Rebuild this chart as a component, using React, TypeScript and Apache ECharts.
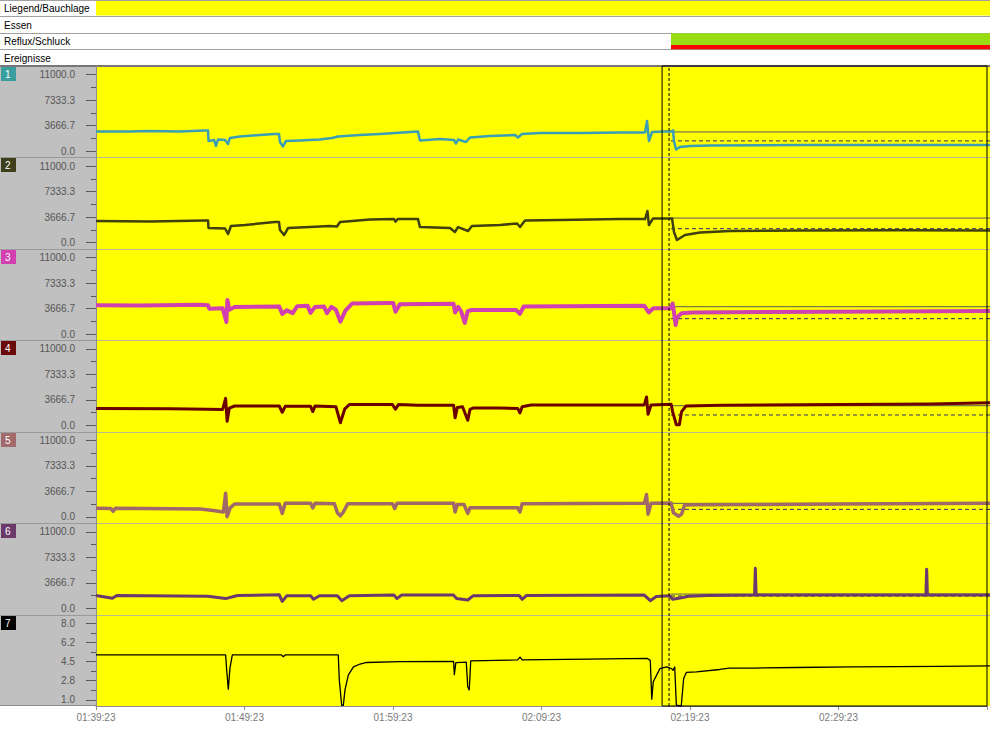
import React, { useEffect, useRef } from "react";
import * as echarts from "echarts";

// ---------- data ----------
const timeTickLabels = ["01:39:23", "01:49:23", "01:59:23", "02:09:23", "02:19:23", "02:29:23"];
const rowLabels = ["Liegend/Bauchlage", "Essen", "Reflux/Schluck", "Ereignisse"];
const channelLabels = ["1", "2", "3", "4", "5", "6", "7"];
const pressureTickLabels = ["0.0", "3666.7", "7333.3", "11000.0"];
const phTickLabels = ["1.0", "2.8", "4.5", "6.2", "8.0"];

// minutes from 01:39:23
const timeStart = 0;
const timeEnd = 60;
const cursorTime = 38.12;
const markerTime = 38.59;

const positionEvents = [[0, 60]];
const refluxEvents = [[38.59, 60]];
const swallowEvents = [[38.59, 60]];

const baselineSolid = [2770, 3530, 3930, 2840, 1950, 2050];
const baselineDashed = [1480, 2000, 2210, 1510, 1090, 1770];

const ch1 = [
  [0, 2830], [2.3, 2830], [3.6, 2900], [5.6, 2830], [7.3, 2970], [7.52, 2970], [7.55, 1470], [7.92, 1610],
  [8.05, 750], [8.19, 1680], [8.66, 1610], [8.86, 1040], [8.99, 1900], [9.66, 2110], [11.0, 2330], [12.0, 2470],
  [12.28, 2470], [12.35, 1320], [12.55, 680], [12.75, 1470], [13.7, 1540], [15.0, 1680], [15.84, 1900], [16.24, 2110],
  [17.7, 2330], [19.06, 2470], [20.07, 2610], [21.07, 2760], [21.61, 2830], [21.74, 1540], [23.09, 1750], [24.03, 1610],
  [24.16, 1100], [24.3, 1680], [24.83, 1320], [25.1, 1970], [26.44, 2190], [28.12, 2330], [28.32, 1970], [28.59, 2470],
  [29.8, 2610], [32.5, 2610], [35.2, 2690], [36.85, 2690], [36.98, 4340], [37.11, 1470], [37.32, 2760], [38.12, 2830],
  [38.66, 2830], [38.73, 3000], [38.79, 1470], [38.93, 250], [39.19, 610], [39.87, 750], [41.2, 820], [47.25, 890],
  [54, 890], [60, 890],
];

const ch2 = [
  [0, 3100], [3.6, 3030], [7.32, 3170], [7.52, 3170], [7.55, 2100], [8.66, 2030], [8.86, 1240], [9.06, 2390],
  [10.0, 2530], [12.0, 2960], [12.28, 2960], [12.35, 1810], [12.62, 1090], [12.89, 2100], [14.36, 2240], [15.7, 2390],
  [16.17, 2320], [16.38, 2960], [18.39, 3320], [20.0, 3390], [20.1, 3000], [20.25, 3390], [21.61, 3390], [21.74, 2240],
  [23.76, 2100], [24.09, 1530], [24.3, 2240], [24.97, 1670], [25.23, 2390], [27.11, 2530], [28.26, 2750], [28.46, 2240],
  [28.79, 3170], [31.14, 3250], [35.17, 3390], [36.85, 3390], [37.01, 4540], [37.11, 2530], [37.38, 3460], [38.66, 3460],
  [38.79, 1530], [38.99, 380], [39.53, 1090], [40.54, 1450], [42.55, 1670], [47.25, 1740], [53.96, 1770], [60, 1740],
];

const ch3 = [
  [0, 4150], [3.0, 4100], [7.0, 4200], [7.52, 4150], [7.6, 3650], [8.5, 3700], [8.75, 1740], [8.82, 4900],
  [8.95, 3500], [9.3, 3900], [12.3, 3950], [12.5, 2900], [12.8, 3400], [13.2, 3000], [13.5, 4000], [14.2, 4050],
  [14.4, 3050], [14.7, 3900], [15.3, 3950], [15.5, 3000], [15.8, 3900], [16.1, 3500], [16.4, 1780], [16.75, 3400],
  [17.2, 4400], [19.5, 4450], [19.95, 4450], [20.1, 3200], [20.4, 4300], [24.0, 4350], [24.1, 3100], [24.3, 3900],
  [24.5, 3300], [24.75, 1600], [24.95, 3300], [25.2, 3460], [28.2, 3450], [28.45, 2900], [28.7, 3950], [36.8, 4050],
  [37.1, 3100], [37.4, 3700], [38.6, 3700], [38.7, 4400], [38.8, 3000], [38.9, 1300], [39.0, 2400], [39.3, 3000],
  [40.0, 3100], [45, 3170], [53, 3250], [60, 3300],
];

const ch4 = [
  [0, 2450], [5, 2400], [7.5, 2350], [8.5, 2300], [8.7, 3900], [8.8, 600], [8.95, 2500], [9.3, 2800],
  [12.3, 2800], [12.5, 1900], [12.7, 2750], [14.4, 2750], [14.55, 2000], [14.7, 2800], [16.1, 2700], [16.4, 400],
  [16.7, 2400], [17.0, 3000], [19.9, 3000], [20.1, 2350], [20.3, 3000], [21.6, 2900], [24.0, 2900], [24.1, 1100],
  [24.25, 2600], [24.6, 2700], [24.95, 750], [25.1, 2300], [25.3, 2500], [27.0, 2500], [28.3, 2450], [28.45, 1800],
  [28.6, 2700], [29.2, 2950], [36.8, 2950], [36.95, 4100], [37.05, 1600], [37.25, 2950], [38.6, 3050], [38.7, 2000],
  [38.95, 100], [39.15, 100], [39.3, 2000], [39.6, 2800], [42, 2900], [50, 3000], [56, 3100], [60, 3250],
];

const ch5 = [
  [0, 1250], [1.0, 1200], [1.15, 800], [1.3, 1250], [7.0, 1150], [8.0, 900], [8.55, 700], [8.7, 3400],
  [8.8, 30], [9.0, 1300], [9.3, 1850], [12.3, 1850], [12.5, 500], [12.7, 1950], [14.4, 1950], [14.55, 1300],
  [14.7, 1950], [16.0, 1900], [16.2, 600], [16.4, 150], [16.6, 700], [16.9, 1900], [19.9, 1900], [20.05, 1200],
  [20.2, 1950], [24.0, 1950], [24.1, 700], [24.25, 1800], [24.7, 1800], [24.95, 500], [25.1, 1300], [27.0, 1300],
  [28.3, 1300], [28.45, 700], [28.6, 1900], [36.8, 1950], [36.95, 3200], [37.05, 400], [37.25, 1950], [38.6, 2000],
  [38.75, 600], [39.1, 100], [39.3, 400], [39.5, 1700], [40, 1750], [50, 1850], [60, 1950],
];

const ch6 = [
  [0, 1850], [1.1, 1450], [1.4, 1850], [7.5, 1750], [8.7, 1400], [9.5, 1850], [12.3, 1950], [12.5, 1000],
  [12.8, 1800], [14.4, 1800], [14.6, 1300], [15, 1800], [16.2, 1800], [16.5, 1100], [17, 1800], [20.0, 1900],
  [20.2, 1400], [20.5, 1900], [24.0, 1900], [24.2, 1400], [24.95, 1200], [25.3, 1800], [28.4, 1850], [28.6, 1300],
  [28.9, 1850], [36.8, 1900], [37.2, 1100], [37.6, 1700], [38.5, 1800], [38.7, 1300], [39.2, 1500], [39.8, 1750],
  [41, 1850], [44.2, 1900], [44.25, 5750], [44.3, 1900], [55.7, 1900], [55.75, 5600], [55.8, 1900], [60, 1900],
];

const ch7 = [
  [0, 5.1], [8.7, 5.1], [8.77, 3.72], [8.88, 1.96], [8.99, 3.9], [9.15, 5.1], [12.45, 5.1], [12.57, 4.94],
  [12.7, 5.1], [16.26, 5.1], [16.33, 2.8], [16.49, 0.5], [16.6, 0.5], [16.71, 1.9], [16.94, 3.27], [17.28, 4.0],
  [17.72, 4.27], [18.16, 4.41], [20.4, 4.48], [24.0, 4.5], [24.05, 3.3], [24.15, 4.4], [24.85, 4.45], [24.95, 2.2],
  [25.05, 1.9], [25.15, 4.55], [28.3, 4.65], [28.46, 4.9], [28.6, 4.65], [33, 4.72], [37.0, 4.78], [37.2, 4.6],
  [37.3, 1.05], [37.4, 2.65], [37.85, 3.85], [38.3, 4.0], [38.62, 3.85], [38.73, 3.7], [38.84, 4.0], [38.95, 0.5],
  [39.28, 0.45], [39.44, 2.95], [39.62, 3.5], [40.3, 3.55], [41.86, 3.77], [42.5, 3.9], [44.2, 3.9], [47.0, 3.95],
  [50.8, 4.0], [56.6, 4.05], [60, 4.1],
];

const channels = [ch1, ch2, ch3, ch4, ch5, ch6, ch7];

// ---------- styles / layout ----------
const W = 990;
const H = 743;
const PLOT_L = 96;
const PLOT_W = 894;
const BAND_H = 66;
const PANEL_H = 640 / 7;
const TICK_TOP = 8.65;
const TICK_SPAN = 76.55;
const FONT = '"Liberation Sans", Arial, sans-serif';

const CH_COLORS = ["#3a9fb5", "#40400e", "#d040b0", "#6a0000", "#a06868", "#6a3a6e", "#000000"];
const BADGE_COLORS = ["#3a9e9e", "#3e3e1a", "#d23fb0", "#6b0a0a", "#a26a6a", "#6b3a6b", "#000000"];
const CH_WIDTHS = [2.5, 2.5, 4, 3, 3.5, 3, 1.3];
const EVENT_COLORS = ["#ffff00", "#98dc12", "#ff0000"];
const EVENT_BANDS = [
  [0.06, 0.94],
  [0.02, 0.73],
  [0.73, 0.99],
];

function buildOption() {
  const grids: any[] = [];
  const xAxes: any[] = [];
  const yAxes: any[] = [];
  const series: any[] = [];
  const graphics: any[] = [];

  // grid 0: event rows
  grids.push({ left: PLOT_L, top: 0, width: PLOT_W, height: BAND_H });
  xAxes.push({ gridIndex: 0, type: "value", min: timeStart, max: timeEnd, show: false });
  yAxes.push({ gridIndex: 0, type: "value", min: 0, max: 4, inverse: true, show: false });

  const eventData: number[][] = [];
  positionEvents.forEach((e) => eventData.push([e[0], e[1], 0, 0]));
  refluxEvents.forEach((e) => eventData.push([e[0], e[1], 2, 1]));
  swallowEvents.forEach((e) => eventData.push([e[0], e[1], 2, 2]));
  series.push({
    type: "custom",
    xAxisIndex: 0,
    yAxisIndex: 0,
    data: eventData,
    clip: false,
    silent: true,
    z: 3,
    encode: { x: [0, 1], y: 2 },
    renderItem: (_p: any, api: any) => {
      const kind = api.value(3);
      const row = api.value(2);
      const f = EVENT_BANDS[kind];
      const a = api.coord([api.value(0), row + f[0]]);
      const b = api.coord([api.value(1), row + f[1]]);
      return {
        type: "rect",
        shape: { x: a[0], y: a[1], width: b[0] - a[0], height: b[1] - a[1] },
        style: { fill: EVENT_COLORS[kind] },
      };
    },
  });

  // panel grids 1..7
  channels.forEach((data, i) => {
    const gi = i + 1;
    const top = BAND_H + i * PANEL_H;
    grids.push({ left: PLOT_L, top: top + TICK_TOP, width: PLOT_W, height: TICK_SPAN });
    xAxes.push({ gridIndex: gi, type: "value", min: timeStart, max: timeEnd, show: false });
    const isPh = i === 6;
    const labels = isPh ? phTickLabels : pressureTickLabels;
    const min = isPh ? 1 : 0;
    const max = isPh ? 8 : 11000;
    const interval = (max - min) / (labels.length - 1);
    yAxes.push({
      gridIndex: gi,
      type: "value",
      min,
      max,
      interval,
      axisLine: { show: false },
      axisTick: { show: true, length: 10, lineStyle: { color: "#5a5a5a", width: 1 } },
      minorTick: { show: true, splitNumber: 2, length: 5, lineStyle: { color: "#5a5a5a", width: 1 } },
      splitLine: { show: false },
      minorSplitLine: { show: false },
      axisLabel: {
        margin: 21,
        color: "#555555",
        fontSize: 10,
        fontFamily: FONT,
        formatter: (v: number) => labels[Math.round((v - min) / interval)] ?? "",
      },
    });

    if (i < 6) {
      series.push({
        type: "line",
        xAxisIndex: gi,
        yAxisIndex: gi,
        data: [[markerTime, baselineSolid[i]], [timeEnd, baselineSolid[i]]],
        symbol: "none",
        silent: true,
        clip: false,
        z: 2,
        lineStyle: { color: "#5a5a5a", width: 1 },
      });
      series.push({
        type: "line",
        xAxisIndex: gi,
        yAxisIndex: gi,
        data: [[markerTime, baselineDashed[i]], [timeEnd, baselineDashed[i]]],
        symbol: "none",
        silent: true,
        clip: false,
        z: 2,
        lineStyle: { color: "#2a2a6a", width: 1, type: [4, 3] },
      });
    }

    series.push({
      type: "line",
      xAxisIndex: gi,
      yAxisIndex: gi,
      data,
      symbol: "none",
      showSymbol: false,
      silent: true,
      clip: false,
      z: 3,
      lineStyle: { color: CH_COLORS[i], width: CH_WIDTHS[i], join: "round" },
    });

    // badge
    graphics.push({
      type: "rect",
      shape: { x: 1, y: Math.round(top) + 1, width: 15, height: 14 },
      style: { fill: BADGE_COLORS[i] },
      z: 5,
      silent: true,
    });
    graphics.push({
      type: "text",
      x: 5,
      y: Math.round(top) + 8.5,
      style: {
        text: channelLabels[i],
        fill: "#ffffff",
        font: `10px ${FONT}`,
        textAlign: "left",
        textVerticalAlign: "middle",
        align: "left",
        verticalAlign: "middle",
      },
      z: 6,
      silent: true,
    });
  });

  // overlay grid 8
  grids.push({ left: PLOT_L, top: BAND_H, width: PLOT_W, height: 640 });
  xAxes.push({
    gridIndex: 8,
    type: "value",
    min: timeStart,
    max: timeEnd,
    interval: 10,
    axisLine: { show: true, lineStyle: { color: "#8c8c8c", width: 1 } },
    axisTick: { show: true, length: 4, lineStyle: { color: "#8c8c8c" } },
    splitLine: { show: false },
    axisLabel: {
      margin: 6,
      color: "#7a7a7a",
      fontSize: 10,
      fontFamily: FONT,
      formatter: (v: number) => timeTickLabels[Math.round(v / 10)] ?? "",
    },
  });
  yAxes.push({ gridIndex: 8, type: "value", min: 0, max: 1, show: false });

  series.push({
    type: "line",
    xAxisIndex: 8,
    yAxisIndex: 8,
    data: [[cursorTime, 0], [cursorTime, 1], [timeEnd, 1], [timeEnd, 0], [cursorTime, 0]],
    symbol: "none",
    silent: true,
    clip: false,
    z: 6,
    lineStyle: { color: "#000000", width: 1 },
  });
  series.push({
    type: "line",
    xAxisIndex: 8,
    yAxisIndex: 8,
    data: [[markerTime, 0], [markerTime, 1]],
    symbol: "none",
    silent: true,
    clip: false,
    z: 6,
    lineStyle: { color: "#000000", width: 1, type: [3, 2] },
  });

  // chrome (backgrounds, separators, labels)
  const bg: any[] = [
    { type: "rect", shape: { x: 0, y: 0, width: W, height: BAND_H }, style: { fill: "#ffffff" }, z: -10, silent: true },
    { type: "rect", shape: { x: 0, y: BAND_H, width: PLOT_L, height: 640 }, style: { fill: "#c0c0c0" }, z: -10, silent: true },
    { type: "rect", shape: { x: PLOT_L, y: BAND_H, width: PLOT_W, height: 640 }, style: { fill: "#ffff00" }, z: -10, silent: true },
  ];
  [0.5, 16.5, 33.5, 49.5].forEach((y) =>
    bg.push({ type: "line", shape: { x1: 0, y1: y, x2: W, y2: y }, style: { stroke: "#a0a0a0", lineWidth: 1 }, z: -5, silent: true })
  );
  bg.push({ type: "line", shape: { x1: 0, y1: 66, x2: W, y2: 66 }, style: { stroke: "#777777", lineWidth: 2 }, z: -5, silent: true });
  for (let i = 1; i < 7; i++) {
    const y = Math.round(BAND_H + i * PANEL_H) + 0.5;
    bg.push({ type: "line", shape: { x1: 0, y1: y, x2: PLOT_L, y2: y }, style: { stroke: "#9a9a9a", lineWidth: 1 }, z: -5, silent: true });
    bg.push({ type: "line", shape: { x1: PLOT_L, y1: y, x2: W, y2: y }, style: { stroke: "#b8b89a", lineWidth: 1 }, z: -5, silent: true });
  }
  bg.push({ type: "line", shape: { x1: 96.5, y1: 66, x2: 96.5, y2: 706 }, style: { stroke: "#8c8c8c", lineWidth: 1 }, z: -5, silent: true });
  bg.push({ type: "line", shape: { x1: 0, y1: 705.5, x2: PLOT_L, y2: 705.5 }, style: { stroke: "#8c8c8c", lineWidth: 1 }, z: -5, silent: true });
  rowLabels.forEach((t, r) => {
    bg.push({
      type: "text",
      x: 4,
      y: r * 16.5 + 8.5,
      style: {
        text: t,
        fill: "#000000",
        font: `10px ${FONT}`,
        textAlign: "left",
        textVerticalAlign: "middle",
        align: "left",
        verticalAlign: "middle",
      },
      z: 6,
      silent: true,
    });
  });

  return {
    animation: false,
    backgroundColor: "#ffffff",
    grid: grids,
    xAxis: xAxes,
    yAxis: yAxes,
    series,
    graphic: { elements: [...bg, ...graphics] },
  };
}

export default function App() {
  const ref = useRef<HTMLDivElement>(null);
  useEffect(() => {
    if (!ref.current) return;
    const chart = echarts.init(ref.current, undefined, { renderer: "svg" });
    chart.setOption(buildOption() as any);
    return () => chart.dispose();
  }, []);
  return (
    <div
      ref={ref}
      style={{ position: "fixed", left: 0, top: 0, width: W, height: H, background: "#ffffff" }}
    />
  );
}
